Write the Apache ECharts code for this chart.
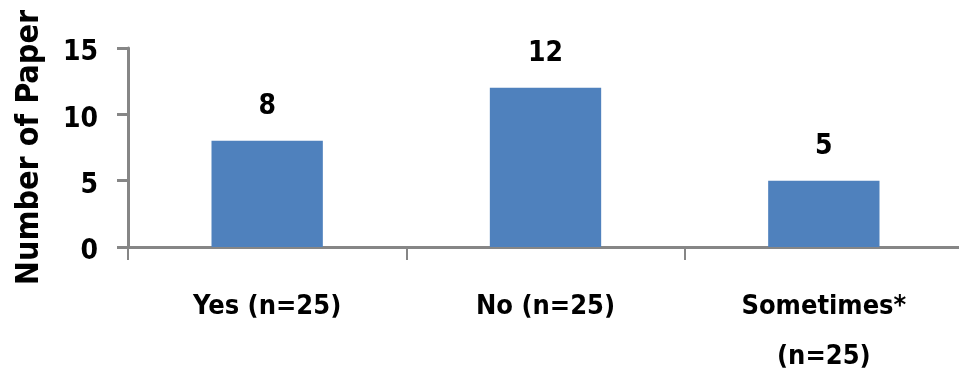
<!DOCTYPE html>
<html>
<head>
<meta charset="utf-8">
<script src="https://cdn.jsdelivr.net/npm/echarts@6/dist/echarts.min.js"></script>
<style>html,body{margin:0;padding:0;background:#fff}#c{width:959px;height:373px}</style>
</head>
<body>
<div id="c"></div>
<script>
const categories = ['Yes (n=25)', 'No (n=25)', 'Sometimes*\n(n=25)'];
const values = [8, 12, 5];
const yTicks = [0, 5, 10, 15];
const yTitle = 'Number of Paper';

const FONT = '"DejaVu Sans Condensed", "DejaVu Sans", sans-serif';
const chart = echarts.init(document.getElementById('c'));
chart.setOption({
  animation: false,
  grid: { left: 128, top: 48, bottom: 126, width: 835, containLabel: false, outerBoundsMode: 'none' },
  xAxis: {
    type: 'category',
    data: categories,
    axisLine: { lineStyle: { color: '#868686', width: 3 } },
    axisTick: { show: true, alignWithLabel: false, length: 13, lineStyle: { color: '#868686', width: 2 } },
    axisLabel: { color: '#000', fontFamily: FONT, fontWeight: 'bold', fontSize: 27, margin: 35, lineHeight: 50, interval: 0 }
  },
  yAxis: {
    type: 'value',
    min: yTicks[0], max: yTicks[yTicks.length - 1], interval: 5,
    name: yTitle,
    nameLocation: 'middle',
    nameGap: 82,
    nameTextStyle: { color: '#000', fontFamily: FONT, fontWeight: 'bold', fontSize: 32 },
    axisLine: { show: true, lineStyle: { color: '#868686', width: 3 } },
    axisTick: { show: true, length: 11, lineStyle: { color: '#868686', width: 3 } },
    splitLine: { show: false },
    axisLabel: { color: '#000', fontFamily: FONT, fontWeight: 'bold', fontSize: 28, margin: 30, verticalAlign: 'top', lineHeight: 10 }
  },
  series: [{
    type: 'bar',
    data: values,
    barWidth: '40%',
    itemStyle: { color: '#4F81BD' },
    label: { show: true, position: 'top', distance: 20, color: '#000', fontFamily: FONT, fontWeight: 'bold', fontSize: 28 }
  }]
});
</script>
</body>
</html>
